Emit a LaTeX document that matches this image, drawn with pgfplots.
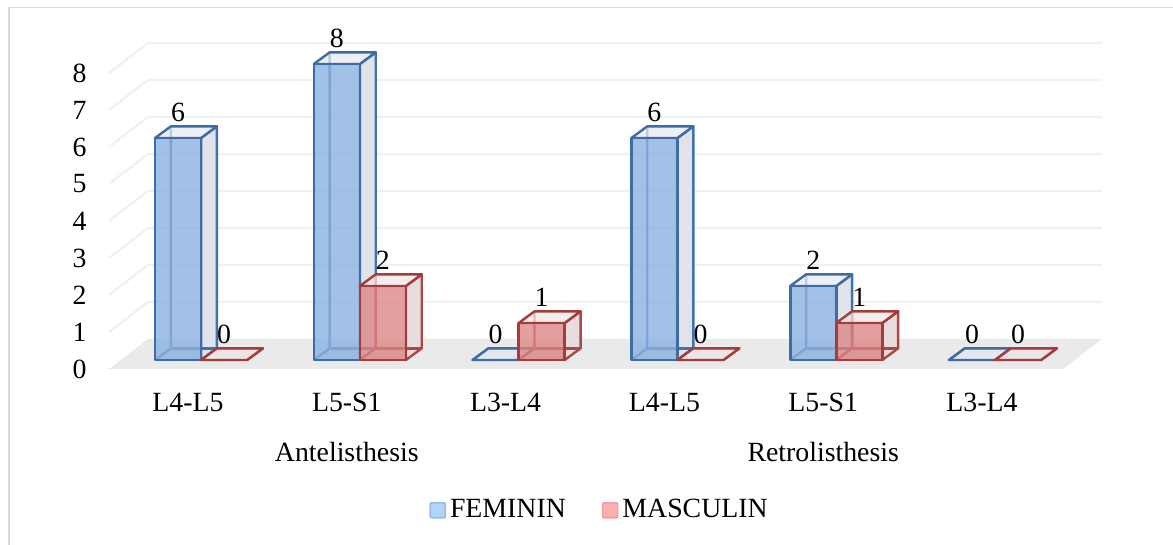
\documentclass[border=0pt]{standalone}
\usepackage{fontspec}
\setmainfont{Liberation Serif}
\usepackage{pgfplots}
\pgfplotsset{compat=1.18}
\definecolor{gridc}{HTML}{F1F1F1}
\definecolor{floorc}{HTML}{EAEAEA}
\definecolor{frameC}{HTML}{D9D9D9}
\definecolor{bfront}{HTML}{8CB1E0}
\definecolor{bedge}{HTML}{3F6CA3}
\definecolor{binner}{HTML}{3F72B0}
\definecolor{bside}{HTML}{E0E3E9}
\definecolor{btop}{HTML}{E6E9EF}
\definecolor{rfront}{HTML}{DC8484}
\definecolor{redge}{HTML}{A43C3C}
\definecolor{rinner}{HTML}{AE4646}
\definecolor{rside}{HTML}{E8DDDE}
\definecolor{rtop}{HTML}{EFE7E8}
\definecolor{blegfill}{HTML}{B0D5FB}
\definecolor{blegedge}{HTML}{9DBBE2}
\definecolor{rlegfill}{HTML}{FCB0B0}
\definecolor{rlegedge}{HTML}{EFA0A0}
% #1 left edge of the front face, #2 value, #3 front, #4 edge, #5 inner edge, #6 side, #7 top, #8 front opacity
\newcommand{\Bar}[8]{%
  \pgfmathsetmacro{\xa}{#1}%
  \pgfmathsetmacro{\xb}{#1+0.29}%
  \pgfmathsetmacro{\xc}{#1+0.1}%
  \pgfmathsetmacro{\xd}{#1+0.39}%
  \pgfmathsetmacro{\yt}{#2}%
  \pgfmathsetmacro{\ytb}{#2+0.316}%
  \edef\tmp{%
    \noexpand\addplot[fill=#6,draw=none] coordinates {(\xa,0) (\xb,0) (\xd,0.316) (\xc,0.316)} --cycle;
    \noexpand\addplot[fill=#6,draw=#5,line width=2.4pt,line join=round] coordinates {(\xb,0) (\xd,0.316) (\xd,\ytb) (\xb,\yt)} --cycle;
    \noexpand\addplot[draw=#5,line width=2.4pt] coordinates {(\xa,0) (\xc,0.316) (\xc,\ytb)};
    \noexpand\addplot[draw=#5,line width=2.4pt] coordinates {(\xc,0.316) (\xd,0.316)};
    \noexpand\addplot[fill=#7,fill opacity=0.75,draw=#4,line width=2.4pt,line join=round] coordinates {(\xa,\yt) (\xb,\yt) (\xd,\ytb) (\xc,\ytb)} --cycle;
    \noexpand\addplot[fill=#3,fill opacity=#8,draw=#4,line width=2.6pt,line join=round] coordinates {(\xa,0) (\xb,0) (\xb,\yt) (\xa,\yt)} --cycle;
  }\tmp
}
\newcommand{\Fem}[2]{\Bar{#1}{#2}{bfront}{bedge}{binner}{bside}{btop}{0.8}}
\newcommand{\Mas}[2]{\Bar{#1}{#2}{rfront}{redge}{rinner}{rside}{rtop}{0.78}}
\begin{document}
\fontsize{27.8}{33}\selectfont
\begin{tikzpicture}[x=1pt,y=1pt]
\path[use as bounding box] (0,0) rectangle (1173,545);
\draw[frameC,line width=1.6pt] (9,0) -- (9,537.5) -- (1173,537.5);
\begin{axis}[
  at={(109pt,176pt)},anchor=south west,
  scale only axis,width=993pt,height=326pt,
  xmin=-0.4975,xmax=5.7557,ymin=-0.243,ymax=8.568,
  clip=false,
  axis line style={draw=none},tick style={draw=none},
  /pgf/number format/assume math mode=true,
  xtick={0,1,2,3,4,5},
  xticklabels={L4-L5,L5-S1,L3-L4,L4-L5,L5-S1,L3-L4},
  xticklabel style={yshift=-15pt},
  extra x ticks={1,4},
  extra x tick labels={Antelisthesis,Retrolisthesis},
  extra x tick style={xticklabel style={yshift=-49pt}},
  ytick={0,1,2,3,4,5,6,7,8},
  yticklabel style={yshift=-9pt,xshift=-13pt},
  every axis plot/.append style={forget plot},
  legend columns=2,
  legend style={at={(0.4945,-0.435)},anchor=center,draw=none,fill=none,
    /tikz/every even column/.style={column sep=33pt},
    /tikz/every odd column/.style={column sep=1pt},
    inner sep=0pt,nodes={inner sep=3pt}},
  legend image code/.code={\draw[#1,line width=1.6pt,rounded corners=1pt] (0pt,-7pt) rectangle (15pt,8pt);},
]
\addlegendimage{fill=blegfill,draw=blegedge}
\addlegendentry{FEMININ}
\addlegendimage{fill=rlegfill,draw=rlegedge}
\addlegendentry{MASCULIN}
% gridlines: side wall and back wall
\addplot[gridc,line width=2.4pt] coordinates {(-0.4975,0.757) (-0.252,1.568) (5.7557,1.568)};
\addplot[gridc,line width=2.4pt] coordinates {(-0.4975,1.757) (-0.252,2.568) (5.7557,2.568)};
\addplot[gridc,line width=2.4pt] coordinates {(-0.4975,2.757) (-0.252,3.568) (5.7557,3.568)};
\addplot[gridc,line width=2.4pt] coordinates {(-0.4975,3.757) (-0.252,4.568) (5.7557,4.568)};
\addplot[gridc,line width=2.4pt] coordinates {(-0.4975,4.757) (-0.252,5.568) (5.7557,5.568)};
\addplot[gridc,line width=2.4pt] coordinates {(-0.4975,5.757) (-0.252,6.568) (5.7557,6.568)};
\addplot[gridc,line width=2.4pt] coordinates {(-0.4975,6.757) (-0.252,7.568) (5.7557,7.568)};
\addplot[gridc,line width=2.4pt] coordinates {(-0.4975,7.757) (-0.252,8.568) (5.7557,8.568)};
% floor
\addplot[fill=floorc,draw=none] coordinates {(-0.4975,-0.243) (-0.252,0.568) (5.7557,0.568) (5.51,-0.243)} --cycle;
% bars
\Fem{-0.2078}{6}
\Mas{0.0822}{0}
\Fem{0.7922}{8}
\Mas{1.0822}{2}
\Fem{1.7922}{0}
\Mas{2.0822}{1}
\Fem{2.7922}{6}
\Mas{3.0822}{0}
\Fem{3.7922}{2}
\Mas{4.0822}{1}
\Fem{4.7922}{0}
\Mas{5.0822}{0}
% value labels
\addplot[draw=none,nodes near coords,point meta=y,
  nodes near coords style={anchor=center,yshift=25.5pt}]
  coordinates {(-0.0628,6) (0.9372,8) (1.9372,0) (2.9372,6) (3.9372,2) (4.9372,0)};
\addplot[draw=none,nodes near coords,point meta=y,
  nodes near coords style={anchor=center,yshift=25.5pt}]
  coordinates {(0.2272,0) (1.2272,2) (2.2272,1) (3.2272,0) (4.2272,1) (5.2272,0)};
\end{axis}
\end{tikzpicture}
\end{document}
